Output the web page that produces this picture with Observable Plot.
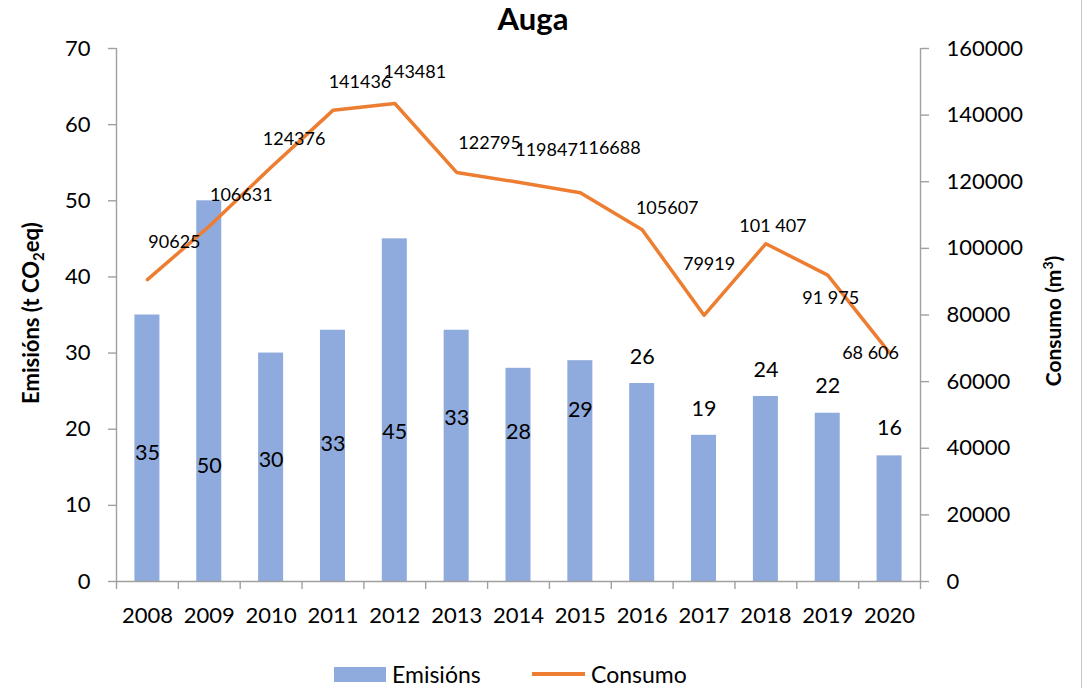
<!DOCTYPE html>
<html>
<head>
<meta charset="utf-8">
<script src="https://cdn.jsdelivr.net/npm/d3@7"></script>
<script src="https://cdn.jsdelivr.net/npm/@observablehq/plot@0.6"></script>
<style>
  body { margin: 0; background: #fff; font-family: Lato, "Open Sans", sans-serif; color: #000; }
  #wrap { position: relative; width: 1084px; height: 688px; overflow: hidden; }
  #title { position: relative; height: 30px; z-index: 2; }
  #title span { position: absolute; left: 0; width: 1066px; top: 0; text-align: center; line-height: 37px; font-size: 31px; font-weight: bold; }
  #chart { height: 610px; }
  #chart svg { display: block; }
  #legend { position: relative; height: 48px; }
  .sw { position: absolute; }
  .lt { position: absolute; font-size: 23px; line-height: 28px; top: 20px; white-space: nowrap; }
  #border { position: absolute; left: 1081px; top: 0; width: 1px; height: 688px; background: #c8c8c8; }
</style>
</head>
<body>
<div id="wrap">
  <div id="title"><span>Auga</span></div>
  <div id="chart"></div>
  <div id="legend">
    <div class="sw" style="left:334px;top:27px;width:52px;height:15px;background:#8FAADC"></div>
    <span class="lt" style="left:392px">Emisións</span>
    <div class="sw" style="left:532px;top:32px;width:53px;height:4px;background:#ED7D31"></div>
    <span class="lt" style="left:591px">Consumo</span>
  </div>
  <div id="border"></div>
</div>
<script>
// ---- data ----
const years = ["2008","2009","2010","2011","2012","2013","2014","2015","2016","2017","2018","2019","2020"];
const emisions = [35, 50, 30, 33, 45, 33, 28, 29, 26, 19.2, 24.3, 22.1, 16.5];
const emisionLabels = ["35","50","30","33","45","33","28","29","26","19","24","22","16"];
const consumo = [90625, 106631, 124376, 141436, 143481, 122795, 119847, 116688, 105607, 79919, 101407, 91975, 68606];
const consumoLabels = ["90625","106631","124376","141436","143481","122795","119847","116688","105607","79919","101 407","91 975","68 606"];
const leftTicks = [0, 10, 20, 30, 40, 50, 60, 70];
const rightTicks = [0, 20000, 40000, 60000, 80000, 100000, 120000, 140000, 160000];

// ---- layout (label placement as in the original) ----
const emisLabelAt = [16.9, 15.1, 16.0, 18.0, 19.6, 21.4, 19.6, 22.5, 29.5, 22.7, 27.8, 25.6, 20.1];
const consumoLabelOffset = [[27,-37],[32,-31],[23,-28],[27,-28],[20,-31],[33,-29],[28,-32],[29,-45],[25,-21],[5,-51],[7,-17],[3,23],[-19,0]];

const leftMax = 70, rightMax = 160000, k = leftMax / rightMax;
const width = 1084, mLeft = 116, mRight = 164;
const step = (width - mLeft - mRight) / years.length;
const gray = "#a0a0a0";
const rows = years.map((year, i) => ({
  year, emis: emisions[i], emisLabel: emisionLabels[i], emisAt: emisLabelAt[i],
  cons: consumo[i] * k, consLabel: consumoLabels[i]
}));

const chart = Plot.plot({
  width, height: 610,
  marginTop: 18, marginBottom: 59, marginLeft: mLeft, marginRight: mRight,
  style: { fontFamily: "Lato, 'Open Sans', sans-serif", fontSize: "22px", color: "#000", background: "transparent", overflow: "visible" },
  x: { type: "band", domain: years, padding: 0, round: false },
  y: { domain: [0, leftMax], nice: false },
  marks: [
    Plot.barY(rows, { x: "year", y: "emis", fill: "#8FAADC", insetLeft: (step - 25) / 2, insetRight: (step - 25) / 2 }),
    // axis lines
    Plot.ruleY([0], { stroke: gray, strokeWidth: 1.4 }),
    Plot.ruleX([years[0]], { y1: 0, y2: leftMax, dx: -step / 2, stroke: gray, strokeWidth: 1.4 }),
    Plot.ruleX([years[years.length - 1]], { y1: 0, y2: leftMax, dx: step / 2, stroke: gray, strokeWidth: 1.4 }),
    // x boundary ticks
    Plot.axisX({ tickSize: 8, tickFormat: () => "", dx: -step / 2, stroke: gray, strokeWidth: 1.4, label: null }),
    Plot.axisX([years[years.length - 1]], { tickSize: 8, tickFormat: () => "", dx: step / 2, stroke: gray, strokeWidth: 1.4, label: null }),
    // x labels
    Plot.axisX({ tickSize: 0, tickPadding: 26, fontSize: 22, fill: "#000", label: null }),
    // left axis
    Plot.axisY(leftTicks, { anchor: "left", tickSize: 8, tickPadding: 18, stroke: gray, strokeWidth: 1.4, fill: "#000", fontSize: 22, label: null }),
    // right axis
    Plot.axisY(rightTicks.map(v => v * k), { anchor: "right", tickSize: 8, tickPadding: 18, stroke: gray, strokeWidth: 1.4, fill: "#000", fontSize: 22, label: null, tickFormat: d => String(Math.round(d / k)) }),
    // line
    Plot.lineY(rows, { x: "year", y: "cons", stroke: "#ED7D31", strokeWidth: 3.5 }),
    // bar labels
    Plot.text(rows, { x: "year", y: "emisAt", text: "emisLabel", fontSize: 21.5, fill: "#000", lineAnchor: "middle" }),
    // line labels
    ...rows.map((r, i) => Plot.text([r], { x: "year", y: "cons", text: "consLabel", dx: consumoLabelOffset[i][0], dy: consumoLabelOffset[i][1], fontSize: 18, fill: "#000", lineAnchor: "middle" })),
    // axis titles
    Plot.text(["Emisións (t CO2eq)"], { frameAnchor: "left", dx: -85, dy: -2, rotate: -90, textAnchor: "middle", lineAnchor: "middle", fontWeight: "bold", fontSize: 22, fill: "#000" }),
    Plot.text(["Consumo (m3)"], { frameAnchor: "right", dx: 134, dy: 6, rotate: -90, textAnchor: "middle", lineAnchor: "middle", fontWeight: "bold", fontSize: 21, fill: "#000" })
  ]
});
document.getElementById("chart").appendChild(chart);

// subscript / superscript in axis titles
d3.select(chart).selectAll("text").each(function () {
  const t = this.textContent;
  if (t === "Emisións (t CO2eq)") {
    const s = d3.select(this); s.text("");
    s.append("tspan").text("Emisións (t CO");
    s.append("tspan").attr("font-size", "15").attr("dy", "5").text("2");
    s.append("tspan").attr("dy", "-5").text("eq)");
  } else if (t === "Consumo (m3)") {
    const s = d3.select(this); s.text("");
    s.append("tspan").text("Consumo (m");
    s.append("tspan").attr("font-size", "14").attr("dy", "-8").text("3");
    s.append("tspan").attr("dy", "8").text(")");
  }
});
</script>
</body>
</html>
